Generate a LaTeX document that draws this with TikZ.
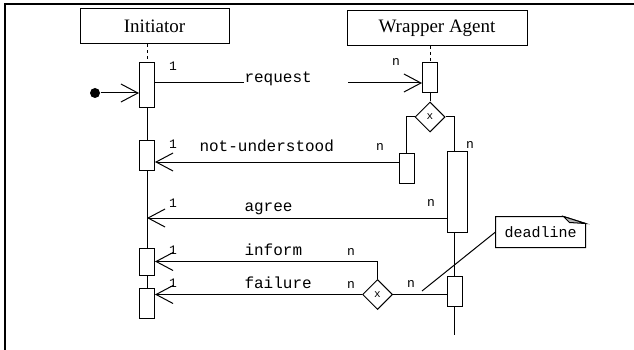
\documentclass[tikz,border=0pt]{standalone}
\usepackage{fontspec}
\setmainfont{Liberation Serif}
\setmonofont{Liberation Mono}
\usetikzlibrary{arrows.meta,shapes.geometric}

\tikzset{
  role/.style={draw, minimum height=35pt, inner sep=0pt, font=\fontsize{19}{19}\selectfont},
  act/.style={draw, fill=white, minimum width=15pt, inner sep=0pt},
  choice/.style={draw, fill=white, diamond, aspect=1, minimum size=30pt, inner sep=0pt,
    font=\ttfamily\fontsize{11}{11}\selectfont},
  msg/.style={-{Straight Barb[length=17pt,width=18pt]}},
  msgtxt/.style={anchor=base west, inner sep=0pt, font=\ttfamily\fontsize{16}{16}\selectfont},
  card/.style={inner sep=0pt, font=\ttfamily\fontsize{13}{13}\selectfont},
}

\begin{document}
\begin{tikzpicture}[x=1pt, y=-1pt, line width=1pt]
\useasboundingbox (0,0) rectangle (634,350);
\draw[line width=1.3pt] (5,350) -- (5,4) -- (634,4);

\node[role, minimum width=149pt] (init) at (154.5,26.5) {Initiator};
\node[role, minimum width=180pt] (wrap) at (437,28) {Wrapper Agent};

% lifelines
\coordinate (iend) at (147,318);
\coordinate (wend) at (454.5,335);
\coordinate (ag) at (447,218);
\coordinate (nu) at (399,162);
\coordinate (reqend) at (348,83);
\coordinate (dl) at (422,291);

\node[act, minimum height=45pt] (ib1) at (147,85.5) {};
\node[act, minimum height=30pt] (ib2) at (147,155) {};
\node[act, minimum height=27pt] (ib3) at (147,261.5) {};
\node[act, minimum height=30pt] (ib4) at (147,303) {};
\node[act, minimum height=30pt] (wb1) at (430,78) {};
\node[choice] (dia1) at (430,117) {x};
\node[act, minimum height=30pt] (nb) at (406.5,168) {};
\node[act, minimum width=20pt, minimum height=81pt] (big) at (457,191.5) {};
\node[act, minimum height=30pt] (wb3) at (454.5,291) {};

\draw[dashed] (init.south -| ib1) -- (ib1.north);
\draw (ib1) -- (ib2) (ib2) -- (ib3) (ib3) -- (ib4);
\draw[dashed] (wrap.south -| wb1) -- (wb1.north);
\draw (wb1) -- (dia1);
\draw (dia1.west) -| (nb.north);
\draw (dia1.east) -| (big.north -| wb3);
\draw (big.south -| wb3) -- (wb3.north);
\draw (wb3.south) -- (wend);

\node[choice] (dia2) at (377.5,294.5) {x};

% messages
\node[circle, fill, minimum size=10pt, inner sep=0pt] (start) at (95,93) {};
\draw[msg] (start) -- (start -| ib1.west);

\node[msgtxt] (req) at (244,83) {request};
\draw (ib1.east |- req.base) -- (req.base west);
\draw[msg] (reqend) -- (reqend -| wb1.west);

\node[msgtxt] (nutxt) at (199,151) {not-understood};
\draw[msg] (nu) -- (nu -| ib2.east);

\node[msgtxt] (agtxt) at (244,211) {agree};
\draw[msg] (ag) -- (ag -| ib2);

\node[msgtxt] (inftxt) at (244,255) {inform};
\draw[msg] (dia2.north) |- (ib3.east);

\node[msgtxt] (failtxt) at (244,288) {failure};
\draw[msg] (dia2.west) -- (dia2.west -| ib4.east);
\draw (dia2.east) -- (dia2.east -| wb3.west);

% cardinalities
\node[card] at (173,66) {1};
\node[card] at (396,62) {n};
\node[card] at (173,144) {1};
\node[card] at (380,147) {n};
\node[card] at (470,145) {n};
\node[card] at (173,203) {1};
\node[card] at (431,203) {n};
\node[card] at (173,250) {1};
\node[card] at (351,252) {n};
\node[card] at (173,283) {1};
\node[card] at (351,285) {n};
\node[card] at (411,284) {n};

% deadline note
\node[minimum width=89pt, minimum height=30pt, inner sep=0pt,
  font=\ttfamily\fontsize{15}{15}\selectfont] (note) at (540.5,232) {deadline};
\draw (note.north west) -- ([xshift=-22pt]note.north east)
  -- ([yshift=-7pt]note.north east) -- (note.south east) -- (note.south west) -- cycle;
\filldraw[fill=gray!55] ([xshift=-22pt]note.north east) -- ([yshift=-7pt]note.north east)
  -- ([xshift=-16pt,yshift=-6pt]note.north east) -- cycle;
\draw (note.west) -- (dl);
\end{tikzpicture}
\end{document}
